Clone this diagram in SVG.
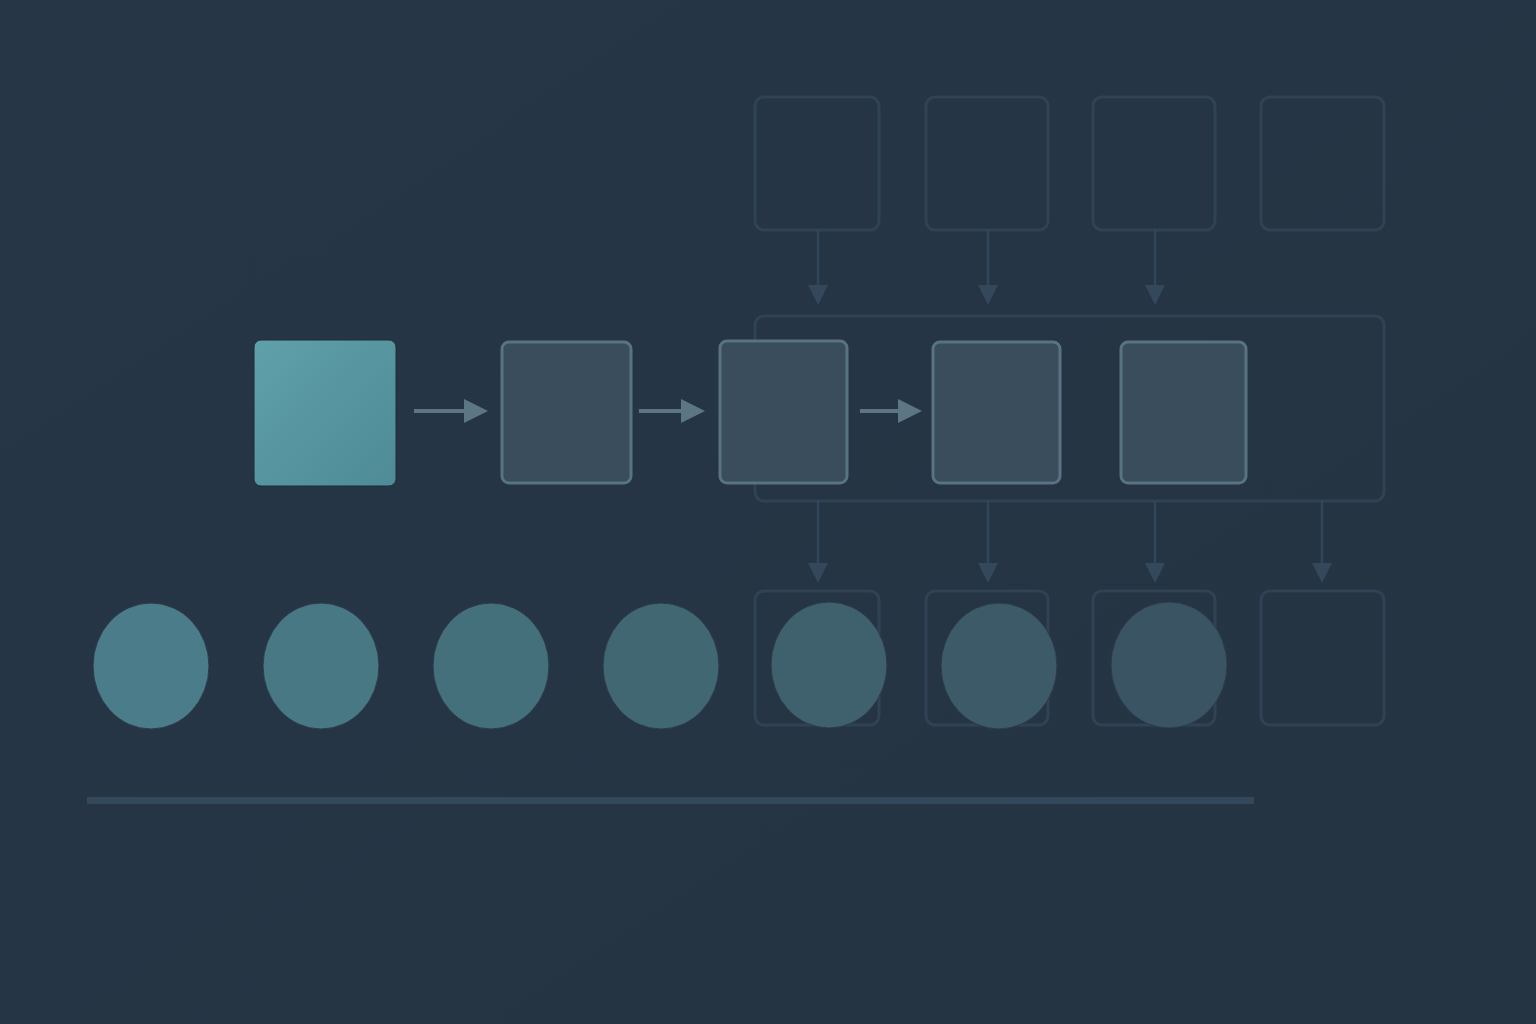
<svg xmlns="http://www.w3.org/2000/svg" width="1536" height="1024" viewBox="0 0 1536 1024">
<defs>
<linearGradient id="bg" x1="0" y1="0" x2="1" y2="1"><stop offset="0" stop-color="#263646"/><stop offset="1" stop-color="#253443"/></linearGradient>
<linearGradient id="teal" x1="0" y1="0" x2="1" y2="1"><stop offset="0" stop-color="#5fa0aa"/><stop offset="1" stop-color="#4e8b96"/></linearGradient>
<marker id="ah" viewBox="0 0 10 10" refX="0" refY="5" markerWidth="6" markerHeight="7.5" markerUnits="strokeWidth" orient="auto"><path d="M0,0 L10,5 L0,10 Z" fill="#5c7684"/></marker>
<marker id="ahf" viewBox="0 0 10 10" refX="0" refY="5" markerWidth="9" markerHeight="8" markerUnits="strokeWidth" orient="auto"><path d="M0,0 L10,5 L0,10 Z" fill="#33485a"/></marker>
</defs>
<style>
.mid{fill:#394d5d;stroke:#587382;stroke-width:3}
.faint{fill:none;stroke:#2f4354;stroke-width:3}
.c1{stroke:#5c7684;stroke-width:4;fill:none}
.c2{stroke:#30465a;stroke-width:2.5;fill:none}
.circ{stroke:#2b3b4a;stroke-width:1}
</style>
<rect width="1536" height="1024" fill="url(#bg)"/>
<g id="faint-top">
<rect class="faint" x="755" y="97" width="124" height="133" rx="9"/>
<rect class="faint" x="926" y="97" width="122" height="133" rx="9"/>
<rect class="faint" x="1093" y="97" width="122" height="133" rx="9"/>
<rect class="faint" x="1261" y="97" width="123" height="133" rx="9"/>
</g>
<g id="container"><rect class="faint" x="755" y="316" width="629" height="185" rx="9"/></g>
<g id="faint-bottom">
<rect class="faint" x="755" y="591" width="124" height="134" rx="9"/>
<rect class="faint" x="926" y="591" width="122" height="134" rx="9"/>
<rect class="faint" x="1093" y="591" width="122" height="134" rx="9"/>
<rect class="faint" x="1261" y="591" width="123" height="134" rx="9"/>
</g>
<g id="connectors">
<line class="c1" x1="414" y1="411" x2="464" y2="411" marker-end="url(#ah)"/>
<line class="c1" x1="639" y1="411" x2="681" y2="411" marker-end="url(#ah)"/>
<line class="c1" x1="860" y1="411" x2="898" y2="411" marker-end="url(#ah)"/>
<line class="c2" x1="818" y1="230" x2="818" y2="285" marker-end="url(#ahf)"/>
<line class="c2" x1="988" y1="230" x2="988" y2="285" marker-end="url(#ahf)"/>
<line class="c2" x1="1155" y1="230" x2="1155" y2="285" marker-end="url(#ahf)"/>
<line class="c2" x1="818" y1="501" x2="818" y2="563" marker-end="url(#ahf)"/>
<line class="c2" x1="988" y1="501" x2="988" y2="563" marker-end="url(#ahf)"/>
<line class="c2" x1="1155" y1="501" x2="1155" y2="563" marker-end="url(#ahf)"/>
<line class="c2" x1="1322" y1="501" x2="1322" y2="563" marker-end="url(#ahf)"/>
</g>
<g id="n1"><rect x="254" y="340" width="142" height="146" rx="7" fill="url(#teal)" stroke="#1f2c38" stroke-width="1"/></g>
<g id="n2"><rect class="mid" x="502" y="342" width="129" height="141" rx="7"/></g>
<g id="n3"><rect class="mid" x="720" y="341" width="127" height="142" rx="7"/></g>
<g id="n4"><rect class="mid" x="933" y="342" width="127" height="141" rx="7"/></g>
<g id="n5"><rect class="mid" x="1121" y="342" width="125" height="141" rx="7"/></g>
<g id="circles">
<ellipse class="circ" cx="151" cy="666" rx="58" ry="63" fill="#4a7d89"/>
<ellipse class="circ" cx="321" cy="666" rx="58" ry="63" fill="#477884"/>
<ellipse class="circ" cx="491" cy="666" rx="58" ry="63" fill="#44707c"/>
<ellipse class="circ" cx="661" cy="666" rx="58" ry="63" fill="#416773"/>
<ellipse class="circ" cx="829" cy="665" rx="58" ry="63" fill="#3f606d"/>
<ellipse class="circ" cx="999" cy="666" rx="58" ry="63" fill="#3d5a68"/>
<ellipse class="circ" cx="1169" cy="665" rx="58" ry="63" fill="#3b5464"/>
</g>
<g id="baseline"><rect x="87" y="797" width="1167" height="7" fill="#33485a"/></g>
</svg>
